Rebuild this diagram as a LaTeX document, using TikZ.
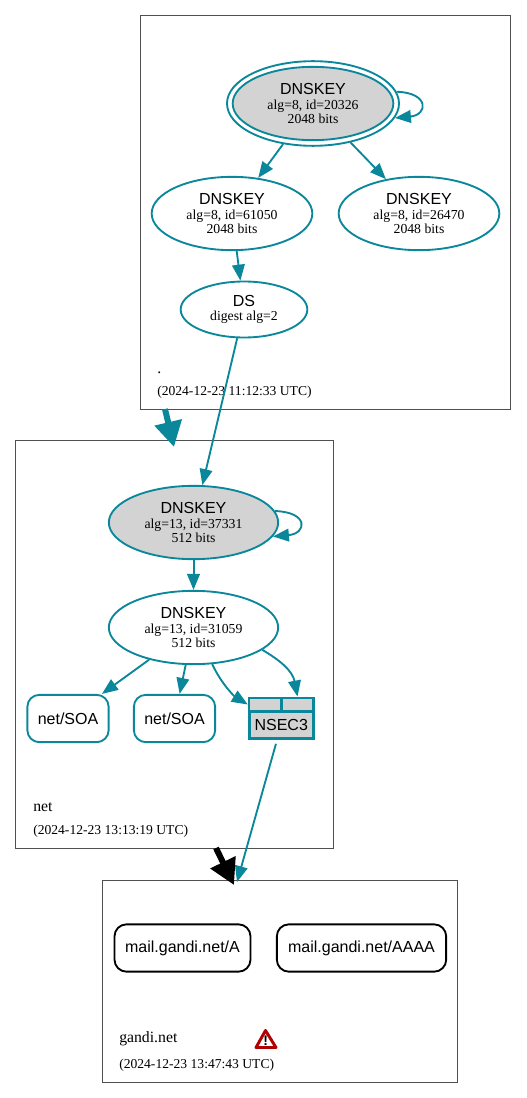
\documentclass[tikz,border=0pt]{standalone}
\usepackage{fontspec}
\setmainfont{Liberation Serif}
\setsansfont{Liberation Sans}
\usetikzlibrary{arrows.meta,shapes.geometric}
\definecolor{dnsteal}{HTML}{0A879A}
\definecolor{dnsgray}{HTML}{D3D3D3}
\definecolor{zoneline}{HTML}{505050}
\newcommand{\dnsname}[1]{{\sffamily\fontsize{12}{11}\selectfont #1}}

\begin{document}
\begin{tikzpicture}[
    x=0.75pt, y=-0.75pt,
    zone/.style={draw=zoneline, rectangle, line width=0.75pt, inner sep=0pt},
    key/.style={draw=dnsteal, ellipse, line width=1.4pt, inner sep=0pt, align=center,
                font=\fontsize{10.3}{10.6}\selectfont, minimum width=120.5pt, minimum height=55pt},
    rrset/.style={draw=dnsteal, rectangle, rounded corners=9pt, line width=1.4pt, inner sep=0pt,
                font=\sffamily\fontsize{12}{12}\selectfont, minimum width=61pt, minimum height=35.5pt},
    host/.style={rrset, draw=black},
    cell/.style={draw=dnsteal, fill=dnsgray, rectangle, line width=1.9pt, inner sep=0pt},
    zonename/.style={anchor=base west, inner sep=0pt, font=\fontsize{11.8}{12}\selectfont},
    zonedate/.style={anchor=base west, inner sep=0pt, font=\fontsize{10.2}{12}\selectfont},
    arrow/.style={-{Triangle[length=12pt,width=9.5pt]}, draw=dnsteal, line width=1.4pt},
    bigarrow/.style={-{Triangle[length=19pt,width=20pt]}, line width=4.5pt}
]
    \useasboundingbox (0,0) rectangle (527,1098);

    % zones
    \node[zone, minimum width=277.5pt, minimum height=295pt] (zoneroot) at (325,212.5) {};
    \node[zone, minimum width=238pt, minimum height=305.5pt] (zonenet) at (174.5,644.5) {};
    \node[zone, minimum width=266pt, minimum height=151.5pt] (zonegandi) at (280,981) {};

    \node[zonename] (nameroot) at (157,373) {.};
    \node[zonedate] (dateroot) at (157,395) {(2024-12-23 11:12:33 UTC)};
    \node[zonename] (namenet) at (33,811) {net};
    \node[zonedate] (datenet) at (33,834) {(2024-12-23 13:13:19 UTC)};
    \node[zonename] (namegandi) at (119,1042) {gandi.net};
    \node[zonedate] (dategandi) at (119,1068) {(2024-12-23 13:47:43 UTC)};

    % root
    \node[key, minimum width=129pt, minimum height=63.5pt] (rootouter) at (313,103.5) {};
    \node[key, fill=dnsgray] (rootkey) at (313,103.5) {\dnsname{DNSKEY}\\alg=8, id=20326\\2048 bits};
    \node[key] (zsk1) at (232,213.5) {\dnsname{DNSKEY}\\alg=8, id=61050\\2048 bits};
    \node[key] (zsk2) at (419,213.5) {\dnsname{DNSKEY}\\alg=8, id=26470\\2048 bits};
    \node[key, minimum width=95pt, minimum height=42pt] (ds) at (244,309.5) {\dnsname{DS}\\digest alg=2};

    % net
    \node[key, fill=dnsgray, minimum width=127pt] (netksk) at (193.5,522.5) {\dnsname{DNSKEY}\\alg=13, id=37331\\512 bits};
    \node[key, minimum width=127pt] (netzsk) at (193.5,627.5) {\dnsname{DNSKEY}\\alg=13, id=31059\\512 bits};
    \node[rrset] (soa1) at (68,718.5) {net/SOA};
    \node[rrset] (soa2) at (174.5,718.5) {net/SOA};
    \node[cell, minimum width=24pt, minimum height=10pt] (nsecleft) at (265,704.5) {};
    \node[cell, minimum width=24pt, minimum height=10pt] (nsecright) at (297.5,704.5) {};
    \node[cell, minimum width=48pt, minimum height=20.5pt, font=\sffamily\fontsize{12}{12}\selectfont] (nsec) at (281.25,725) {NSEC3};

    % gandi
    \node[host, minimum width=102pt] (maila) at (182.5,948) {mail.gandi.net/A};
    \node[host, minimum width=127pt] (mailaaaa) at (361.5,948) {mail.gandi.net/AAAA};

    \draw[draw=red!70!black, fill=white, line width=2.2pt, line join=round] (256,1047.5) -- (265.5,1030.5) -- (276,1047.5) -- cycle;
    \node[inner sep=0pt, font=\bfseries\sffamily\fontsize{10.5}{10.5}\selectfont] (warn) at (265.8,1041) {!};

    \coordinate (rootout) at (165,409);
    \coordinate (netin) at (174,447);
    \coordinate (netout) at (216,848);
    \coordinate (gandiin) at (234,885);
    \coordinate (nsecin) at (237,882);

    \draw[arrow] (rootouter) -- (zsk1);
    \draw[arrow] (rootouter) -- (zsk2);
    \draw[arrow] (zsk1) -- (ds);
    \draw[arrow] (ds) -- (netksk);
    \draw[arrow, line width=1.5pt] (netksk) -- (netzsk);
    \draw[arrow] (netzsk) -- (soa1);
    \draw[arrow] (netzsk) -- (soa2);
    \draw[arrow, shorten <=3pt] (nsec) -- (nsecin);
    \draw[arrow] (rootouter.8) .. controls +(33,1) and +(33,-3) .. (rootouter.-10);
    \draw[arrow] (netksk.8) .. controls +(34,1) and +(34,-3) .. (netksk.-10);
    \draw[arrow] (netzsk.-63) .. controls +(10,21) and +(-13,-8) .. (nsecleft.west);
    \draw[arrow] (netzsk.-18) .. controls +(17,10) and +(-5,-26) .. (nsecright.north);
    \draw[bigarrow, draw=dnsteal] (rootout) -- (netin);
    \draw[bigarrow, draw=black] (netout) -- (gandiin);
\end{tikzpicture}
\end{document}
